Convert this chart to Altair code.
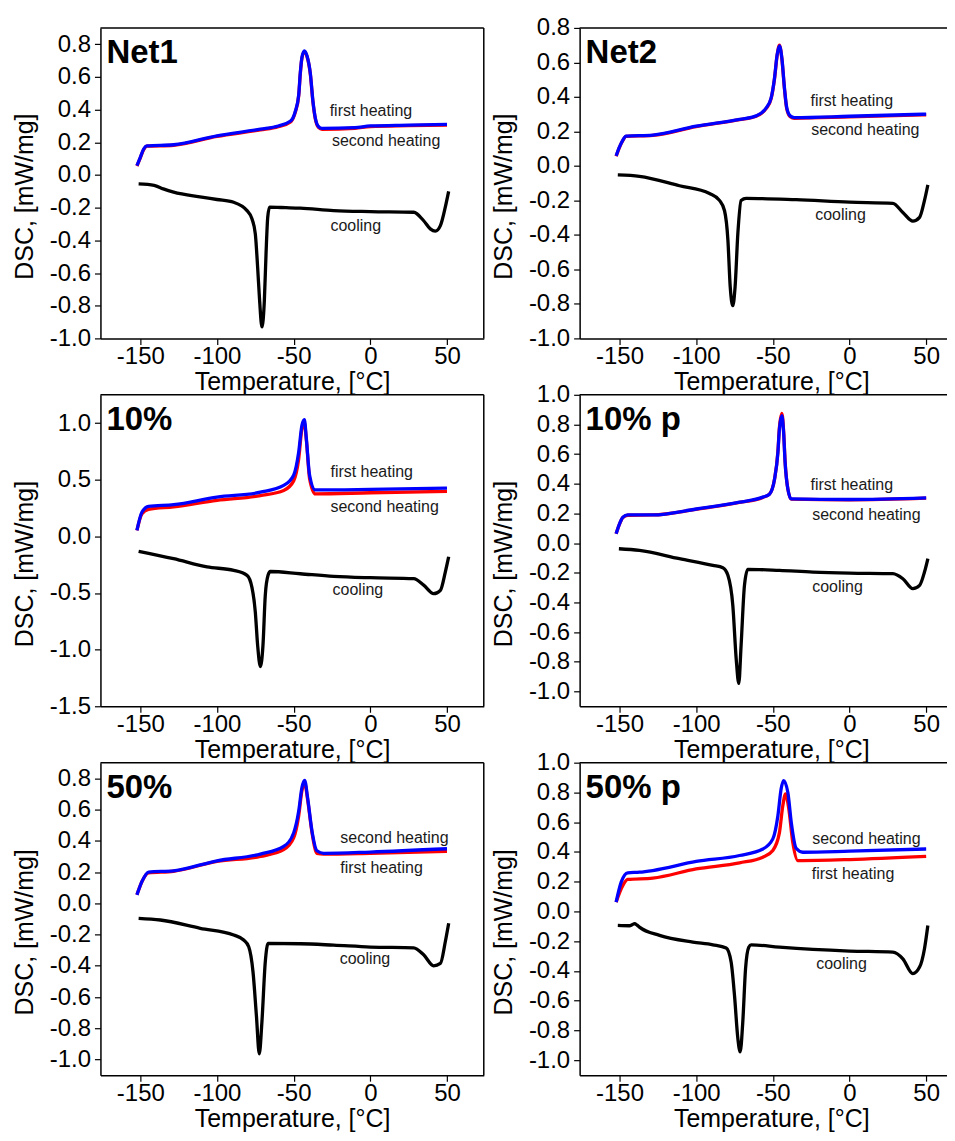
import altair as alt
import pandas as pd

FONT = "Liberation Sans"
X_TICKS = [-150, -100, -50, 0, 50]
X_TITLE = "Temperature, [°C]"
Y_TITLE = "DSC, [mW/mg]"
ROW_H = [311, 312, 313]
PANEL_W = 384

# ---------------- Net1 ----------------
net1_heat_T = [-152.2, -150, -147.8, -145.7, -128.3, -100, -71.7, -60, -52, -48.9, -46.7, -45.7,
               -44.6, -43.0, -41.3, -39.1, -37.4, -35.9, -33.7, -31.5, -10, 0, 25, 50]
net1_first_v = [0.055, 0.105, 0.155, 0.176, 0.182, 0.236, 0.276, 0.296, 0.325, 0.385, 0.485, 0.615,
                0.715, 0.755, 0.725, 0.615, 0.445, 0.345, 0.29, 0.28, 0.286, 0.296, 0.302, 0.306]
net1_second_v = [0.057, 0.108, 0.159, 0.178, 0.185, 0.24, 0.28, 0.30, 0.33, 0.39, 0.49, 0.62,
                 0.72, 0.76, 0.73, 0.62, 0.45, 0.35, 0.295, 0.285, 0.29, 0.30, 0.305, 0.31]
net1_cool_T = [-151.1, -141, -135, -128.3, -110, -100, -89.1, -80.4, -77.2, -75, -73.5, -72.2, -70.7, -69.1,
               -68.0, -66.9, -65.7, -55, -45.7, -23.9, 0, 28.3, 34.8, 39.1, 42.4, 45.7, 48.9, 51.1]
net1_cool_v = [-0.055, -0.063, -0.085, -0.105, -0.135, -0.15, -0.167, -0.218, -0.268, -0.36, -0.563, -0.767,
               -0.93, -0.767, -0.48, -0.258, -0.197, -0.2, -0.203, -0.218, -0.224, -0.228, -0.28, -0.33,
               -0.344, -0.31, -0.197, -0.10]
net1_lab_txt = ["first heating", "second heating", "cooling"]
net1_lab_T = [-26.5, -25, -26]
net1_lab_v = [0.39, 0.21, -0.31]

# ---------------- Net2 ----------------
net2_heat_T = [-152.2, -150, -147.8, -145.7, -128.3, -100, -71.7, -60.9, -54.3, -51.1, -48.9, -47.2,
               -45.7, -44.1, -42.4, -40.9, -38.7, -35.9, 0, 50]
net2_first_v = [0.056, 0.108, 0.148, 0.171, 0.177, 0.228, 0.268, 0.288, 0.333, 0.39, 0.505, 0.64,
                0.70, 0.62, 0.445, 0.33, 0.285, 0.276, 0.284, 0.296]
net2_second_v = [0.058, 0.11, 0.15, 0.173, 0.179, 0.23, 0.27, 0.29, 0.336, 0.394, 0.51, 0.644,
                 0.696, 0.625, 0.45, 0.336, 0.29, 0.28, 0.288, 0.30]
net2_cool_T = [-151.1, -137, -110.9, -91.3, -84.8, -81.5, -79.3, -77.8, -76.1, -74.6, -72.8, -70.7,
               -67.4, -34.8, 0, 28.3, 34.8, 41.3, 45.7, 48.9, 51.1]
net2_cool_v = [-0.052, -0.06, -0.115, -0.16, -0.2, -0.26, -0.43, -0.70, -0.81, -0.70, -0.39, -0.2,
               -0.188, -0.196, -0.21, -0.217, -0.27, -0.32, -0.298, -0.2, -0.11]
net2_lab_txt = ["first heating", "second heating", "cooling"]
net2_lab_T = [-25.4, -25, -22.4]
net2_lab_v = [0.375, 0.206, -0.283]

# ---------------- 10% ----------------
p10_heat_T = [-152.2, -148.9, -144.6, -128.3, -100, -71.7, -56.5, -50, -46.7, -44.6, -43.0, -41.7,
              -39.6, -35.9, 0, 50]
p10_first_v = [0.053, 0.20, 0.238, 0.26, 0.318, 0.36, 0.405, 0.49, 0.685, 0.95, 1.0, 0.85,
               0.51, 0.375, 0.385, 0.397]
p10_second_v = [0.053, 0.215, 0.265, 0.28, 0.347, 0.39, 0.45, 0.54, 0.745, 0.98, 1.03, 0.86,
                0.54, 0.41, 0.415, 0.426]
p10_cool_T = [-151.1, -128.3, -106.5, -89.1, -80.4, -77.2, -75, -73.5, -71.7, -70.0, -68.5, -66.7,
              -65.2, -45.7, -23.9, 0, 28.3, 34.8, 41.3, 45.7, 48.9, 51.1]
p10_cool_v = [-0.132, -0.197, -0.27, -0.30, -0.344, -0.45, -0.668, -0.96, -1.15, -0.96, -0.52, -0.344,
              -0.31, -0.33, -0.353, -0.365, -0.373, -0.43, -0.506, -0.476, -0.315, -0.18]
p10_lab_txt = ["first heating", "second heating", "cooling"]
p10_lab_T = [-26, -26, -24.6]
p10_lab_v = [0.57, 0.26, -0.47]

# ---------------- 10% p ----------------
p10p_heat_T = [-152.2, -150, -147.8, -144.6, -128.3, -100, -71.7, -56.5, -52.2, -48.9, -46.7, -45.7,
               -44.1, -43.0, -42.0, -40.2, -38.0, 0, 50]
p10p_first_v = [0.063, 0.128, 0.173, 0.188, 0.19, 0.228, 0.274, 0.308, 0.33, 0.43, 0.615, 0.78,
                0.875, 0.76, 0.55, 0.365, 0.296, 0.292, 0.303]
p10p_second_v = [0.063, 0.13, 0.175, 0.19, 0.19, 0.23, 0.276, 0.31, 0.33, 0.43, 0.61, 0.77,
                 0.86, 0.75, 0.545, 0.365, 0.298, 0.294, 0.305]
p10p_cool_T = [-150.4, -137, -110.9, -89.1, -82.6, -79.3, -76.1, -73.9, -72.2, -70.7, -68.5, -66.3,
               -45.7, -23.9, 0, 28.3, 34.8, 41.3, 45.7, 48.9, 51.1]
p10p_cool_v = [-0.038, -0.049, -0.105, -0.15, -0.166, -0.217, -0.42, -0.78, -0.946, -0.69, -0.285, -0.177,
               -0.184, -0.195, -0.202, -0.206, -0.24, -0.307, -0.285, -0.195, -0.105]
p10p_lab_txt = ["first heating", "second heating", "cooling"]
p10p_lab_T = [-25.4, -24.3, -24.3]
p10p_lab_v = [0.39, 0.19, -0.296]

# ---------------- 50% ----------------
p50_heat_T = [-152.2, -148.9, -144.6, -128.3, -100, -71.7, -56.5, -50, -46.7, -44.6, -42.8, -40.9,
              -38.0, -34.8, -30.4, 0, 50]
p50_first_v = [0.054, 0.14, 0.195, 0.205, 0.268, 0.30, 0.343, 0.418, 0.56, 0.72, 0.77, 0.665,
               0.45, 0.32, 0.315, 0.32, 0.332]
p50_second_v = [0.054, 0.14, 0.2, 0.208, 0.272, 0.315, 0.364, 0.45, 0.59, 0.74, 0.786, 0.675,
                0.46, 0.336, 0.32, 0.328, 0.349]
p50_cool_T = [-151.1, -137, -110.9, -89.1, -82.6, -79.3, -76.5, -74.3, -72.4, -70.7, -68.5, -66.7,
              -45.7, -23.9, 0, 28.3, 34.8, 41.3, 45.7, 48.9, 51.1]
p50_cool_v = [-0.096, -0.107, -0.16, -0.203, -0.235, -0.278, -0.44, -0.717, -0.964, -0.76, -0.375, -0.257,
              -0.259, -0.268, -0.28, -0.285, -0.33, -0.40, -0.385, -0.246, -0.128]
p50_lab_txt = ["second heating", "first heating", "cooling"]
p50_lab_T = [-19.6, -19.6, -20]
p50_lab_v = [0.417, 0.225, -0.357]

# ---------------- 50% p ----------------
p50p_first_T = [-152.2, -147.8, -144.6, -128.3, -100, -71.7, -56.5, -50, -45.7, -43.5, -41.7, -39.6,
                -37.0, -33.7, 0, 50]
p50p_first_v = [0.063, 0.175, 0.215, 0.224, 0.286, 0.327, 0.365, 0.41, 0.53, 0.71, 0.79, 0.69,
                0.465, 0.342, 0.349, 0.37]
p50p_second_T = [-152.2, -148.9, -144.6, -137, -128.3, -100, -71.7, -56.5, -50, -46.7, -44.6, -43.0,
                 -40.2, -38.0, -34.8, -30.4, 0, 50]
p50p_second_v = [0.063, 0.197, 0.26, 0.264, 0.275, 0.336, 0.376, 0.42, 0.488, 0.644, 0.823, 0.88,
                 0.80, 0.60, 0.425, 0.398, 0.405, 0.42]
p50p_cool_T = [-151.1, -143.5, -141.5, -140.2, -138.5, -137, -123.9, -102.2, -89.1, -80.4, -77.2, -75,
               -72.8, -71.3, -69.6, -67.8, -65.7, -64.1, -45.7, -23.9, 0, 28.3, 34.8, 41.3, 45.7, 48.9, 51.1]
p50p_cool_v = [-0.094, -0.096, -0.088, -0.082, -0.092, -0.105, -0.161, -0.206, -0.224, -0.246, -0.34, -0.564,
               -0.855, -0.944, -0.743, -0.385, -0.24, -0.224, -0.24, -0.255, -0.266, -0.273, -0.318, -0.418,
               -0.374, -0.25, -0.094]
p50p_lab_txt = ["second heating", "first heating", "cooling"]
p50p_lab_T = [-24.3, -24.6, -21.7]
p50p_lab_v = [0.488, 0.253, -0.351]

TICKS_02_08 = [-1.0, -0.8, -0.6, -0.4, -0.2, 0.0, 0.2, 0.4, 0.6, 0.8]
TICKS_02_10 = [-1.0, -0.8, -0.6, -0.4, -0.2, 0.0, 0.2, 0.4, 0.6, 0.8, 1.0]
TICKS_05 = [-1.5, -1.0, -0.5, 0.0, 0.5, 1.0]

MINUS_FIX_1 = "replace(format(datum.value, '.1f'), '\u2212', '-')"
MINUS_FIX_0 = "replace(format(datum.value, 'd'), '\u2212', '-')"


def make_panel(name, first_T, first_v, second_T, second_v, cool_T, cool_v,
               lab_txt, lab_T, lab_v, ydom, yticks, height):
    width = PANEL_W
    xs = alt.Scale(domain=[-176, 74], nice=False, zero=False)
    ys = alt.Scale(domain=ydom, nice=False, zero=False)
    common = dict(grid=False, tickSize=6, tickColor="black", tickWidth=1.2,
                  domainColor="black", domainWidth=1.5,
                  labelFont=FONT, titleFont=FONT, labelColor="black", titleColor="black",
                  labelFontSize=24, titleFontSize=25, titleFontWeight="normal")
    xaxis = alt.Axis(values=X_TICKS, title=X_TITLE, labelExpr=MINUS_FIX_0,
                     labelPadding=0, titlePadding=1, labelFlush=False, **common)
    yaxis = alt.Axis(values=yticks, title=Y_TITLE, labelExpr=MINUS_FIX_1,
                     labelPadding=4, titlePadding=12, titleY=height / 2 + 13, **common)

    def line(T, v, color):
        df = pd.DataFrame({"T": T, "v": v})
        return alt.Chart(df).mark_line(color=color, strokeWidth=3.3, interpolate="monotone").encode(
            x=alt.X("T:Q", scale=xs, axis=xaxis),
            y=alt.Y("v:Q", scale=ys, axis=yaxis),
        )

    labels = alt.Chart(pd.DataFrame({"txt": lab_txt, "T": lab_T, "v": lab_v})).mark_text(
        align="left", baseline="middle", fontSize=16, font=FONT, color="#1a1a1a"
    ).encode(
        x=alt.X("T:Q", scale=xs, axis=xaxis),
        y=alt.Y("v:Q", scale=ys, axis=yaxis),
        text="txt:N",
    )
    title = alt.Chart(pd.DataFrame({"t": [name]})).mark_text(
        align="left", baseline="alphabetic", fontSize=33, fontWeight="bold", font=FONT, color="black"
    ).encode(x=alt.value(6), y=alt.value(35), text="t:N")

    one = pd.DataFrame({"a": [0]})
    top = alt.Chart(one).mark_rule(color="black", strokeWidth=1.5).encode(
        x=alt.value(0), x2=alt.value(width), y=alt.value(0))
    right = alt.Chart(one).mark_rule(color="black", strokeWidth=1.5).encode(
        x=alt.value(width), y=alt.value(0), y2=alt.value(height))
    layers = [line(first_T, first_v, "#ff0000"), line(second_T, second_v, "#0000ff"),
              line(cool_T, cool_v, "#000000"), labels, title, top, right]
    return alt.layer(*layers).properties(width=width, height=height)


panels = [
    make_panel("Net1", net1_heat_T, net1_first_v, net1_heat_T, net1_second_v, net1_cool_T, net1_cool_v,
               net1_lab_txt, net1_lab_T, net1_lab_v, [-1.0, 0.9], TICKS_02_08, ROW_H[0]),
    make_panel("Net2", net2_heat_T, net2_first_v, net2_heat_T, net2_second_v, net2_cool_T, net2_cool_v,
               net2_lab_txt, net2_lab_T, net2_lab_v, [-1.0, 0.8], TICKS_02_08, ROW_H[0]),
    make_panel("10%", p10_heat_T, p10_first_v, p10_heat_T, p10_second_v, p10_cool_T, p10_cool_v,
               p10_lab_txt, p10_lab_T, p10_lab_v, [-1.5, 1.25], TICKS_05, ROW_H[1]),
    make_panel("10% p", p10p_heat_T, p10p_first_v, p10p_heat_T, p10p_second_v, p10p_cool_T, p10p_cool_v,
               p10p_lab_txt, p10p_lab_T, p10p_lab_v, [-1.1, 1.0], TICKS_02_10, ROW_H[1]),
    make_panel("50%", p50_heat_T, p50_first_v, p50_heat_T, p50_second_v, p50_cool_T, p50_cool_v,
               p50_lab_txt, p50_lab_T, p50_lab_v, [-1.1, 0.9], TICKS_02_08, ROW_H[2]),
    make_panel("50% p", p50p_first_T, p50p_first_v, p50p_second_T, p50p_second_v, p50p_cool_T, p50p_cool_v,
               p50p_lab_txt, p50p_lab_T, p50p_lab_v, [-1.1, 1.0], TICKS_02_10, ROW_H[2]),
]

chart = alt.concat(*panels, columns=2, spacing={"row": 56.5, "column": 96}, bounds="flush").configure_view(
    stroke=None
).properties(
    padding={"left": 3.6, "top": 7, "right": -17, "bottom": 0},
    background="white",
)

chart.save("out.html", embed_options={"renderer": "svg", "actions": False})
